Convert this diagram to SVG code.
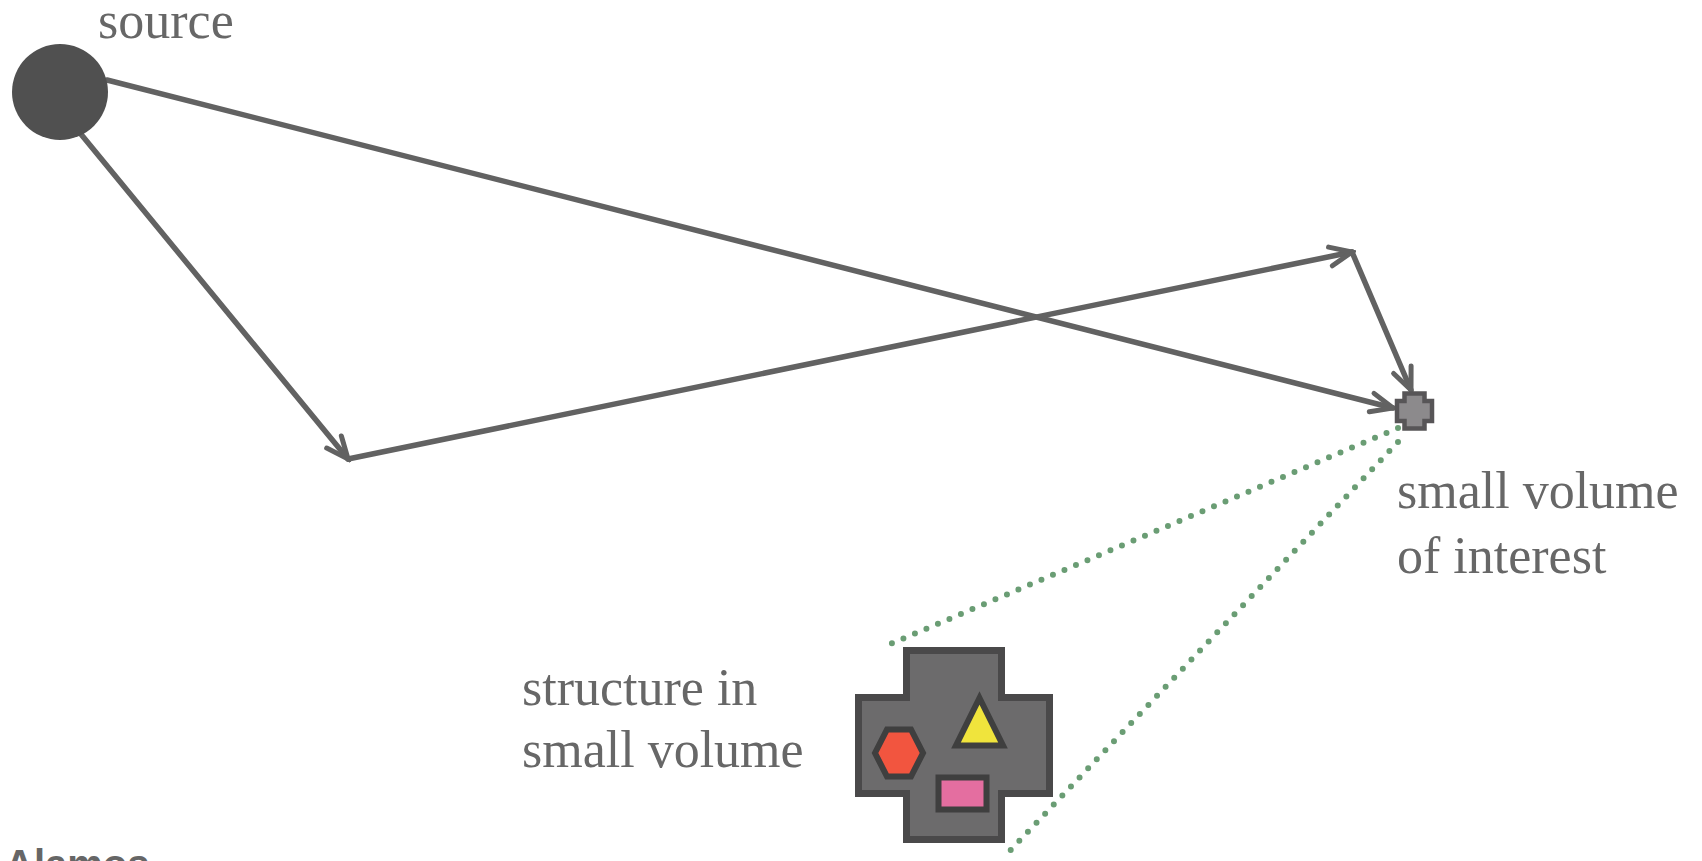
<svg xmlns="http://www.w3.org/2000/svg" width="1702" height="861" viewBox="0 0 1702 861">
  <style>
    .label { font-family: "Liberation Serif", "Times New Roman", serif; font-size: 52px; fill: #676767; }
    .credit { font-family: "Liberation Sans", Arial, sans-serif; font-size: 40px; font-weight: bold; fill: #666666; }
    .ray { fill: none; stroke: #626262; stroke-width: 5.5; stroke-linecap: round; }
    .view { fill: none; stroke: #6a9d74; stroke-width: 6; stroke-linecap: round; stroke-dasharray: 0 12.5; }
    .item { stroke: #3f3f3f; stroke-width: 6; stroke-linejoin: miter; }
  </style>
  <defs>
    <marker id="dart" viewBox="-28 -14 32 28" markerWidth="32" markerHeight="28" refX="0" refY="0" orient="auto" markerUnits="userSpaceOnUse">
      <path d="M-22,-9.5 L0,0 L-22,9.5" fill="none" stroke="#626262" stroke-width="5" stroke-linejoin="miter" stroke-linecap="round"/>
    </marker>
  </defs>
  <rect width="1702" height="861" fill="#ffffff"/>

  <!-- rays and field-of-view lines -->
  <g id="connectors">
    <line class="ray" x1="107" y1="80" x2="1393" y2="408" marker-end="url(#dart)"/>
    <line class="ray" x1="80" y1="133" x2="348" y2="459" marker-end="url(#dart)"/>
    <line class="ray" x1="348" y1="459" x2="1352" y2="252" marker-end="url(#dart)"/>
    <line class="ray" x1="1352" y1="252" x2="1411" y2="390" marker-end="url(#dart)"/>
    <line class="view" x1="1398" y1="428" x2="881" y2="648"/>
    <line class="view" x1="1398" y1="442" x2="1004" y2="857"/>
  </g>

  <!-- emitter -->
  <g id="source">
    <circle cx="60" cy="92" r="48" fill="#505050"/>
    <text class="label" x="98" y="38">source</text>
  </g>

  <!-- tiny target voxel -->
  <g id="volume">
    <path d="M1404.5,393.5 H1424.5 V401 H1432 V421 H1424.5 V428.5 H1404.5 V421 H1397 V401 H1404.5 Z" fill="#8c8a8c" stroke="#575557" stroke-width="4.5"/>
    <text class="label" x="1397" y="508">small volume</text>
    <text class="label" x="1397" y="573">of interest</text>
  </g>

  <!-- magnified view of the voxel contents -->
  <g id="structure">
    <path d="M906.5,650.5 H1001.5 V697.5 H1049.5 V793.5 H1001.5 V839.5 H906.5 V793.5 H858.5 V697.5 H906.5 Z" fill="#6c6b6c" stroke="#4a494a" stroke-width="7"/>
    <polygon class="item" points="875,753 887,729.5 911,729.5 923,753 911,776.5 887,776.5" fill="#f2553f"/>
    <polygon class="item" points="979.5,698 1003,745.5 956,745.5" fill="#f0e43c"/>
    <rect class="item" x="938.5" y="777.5" width="48" height="32" fill="#e46ea0"/>
    <text class="label" x="522" y="705">structure in</text>
    <text class="label" x="522" y="767">small volume</text>
  </g>

  <text class="credit" x="5" y="878">Alamos</text>
</svg>
